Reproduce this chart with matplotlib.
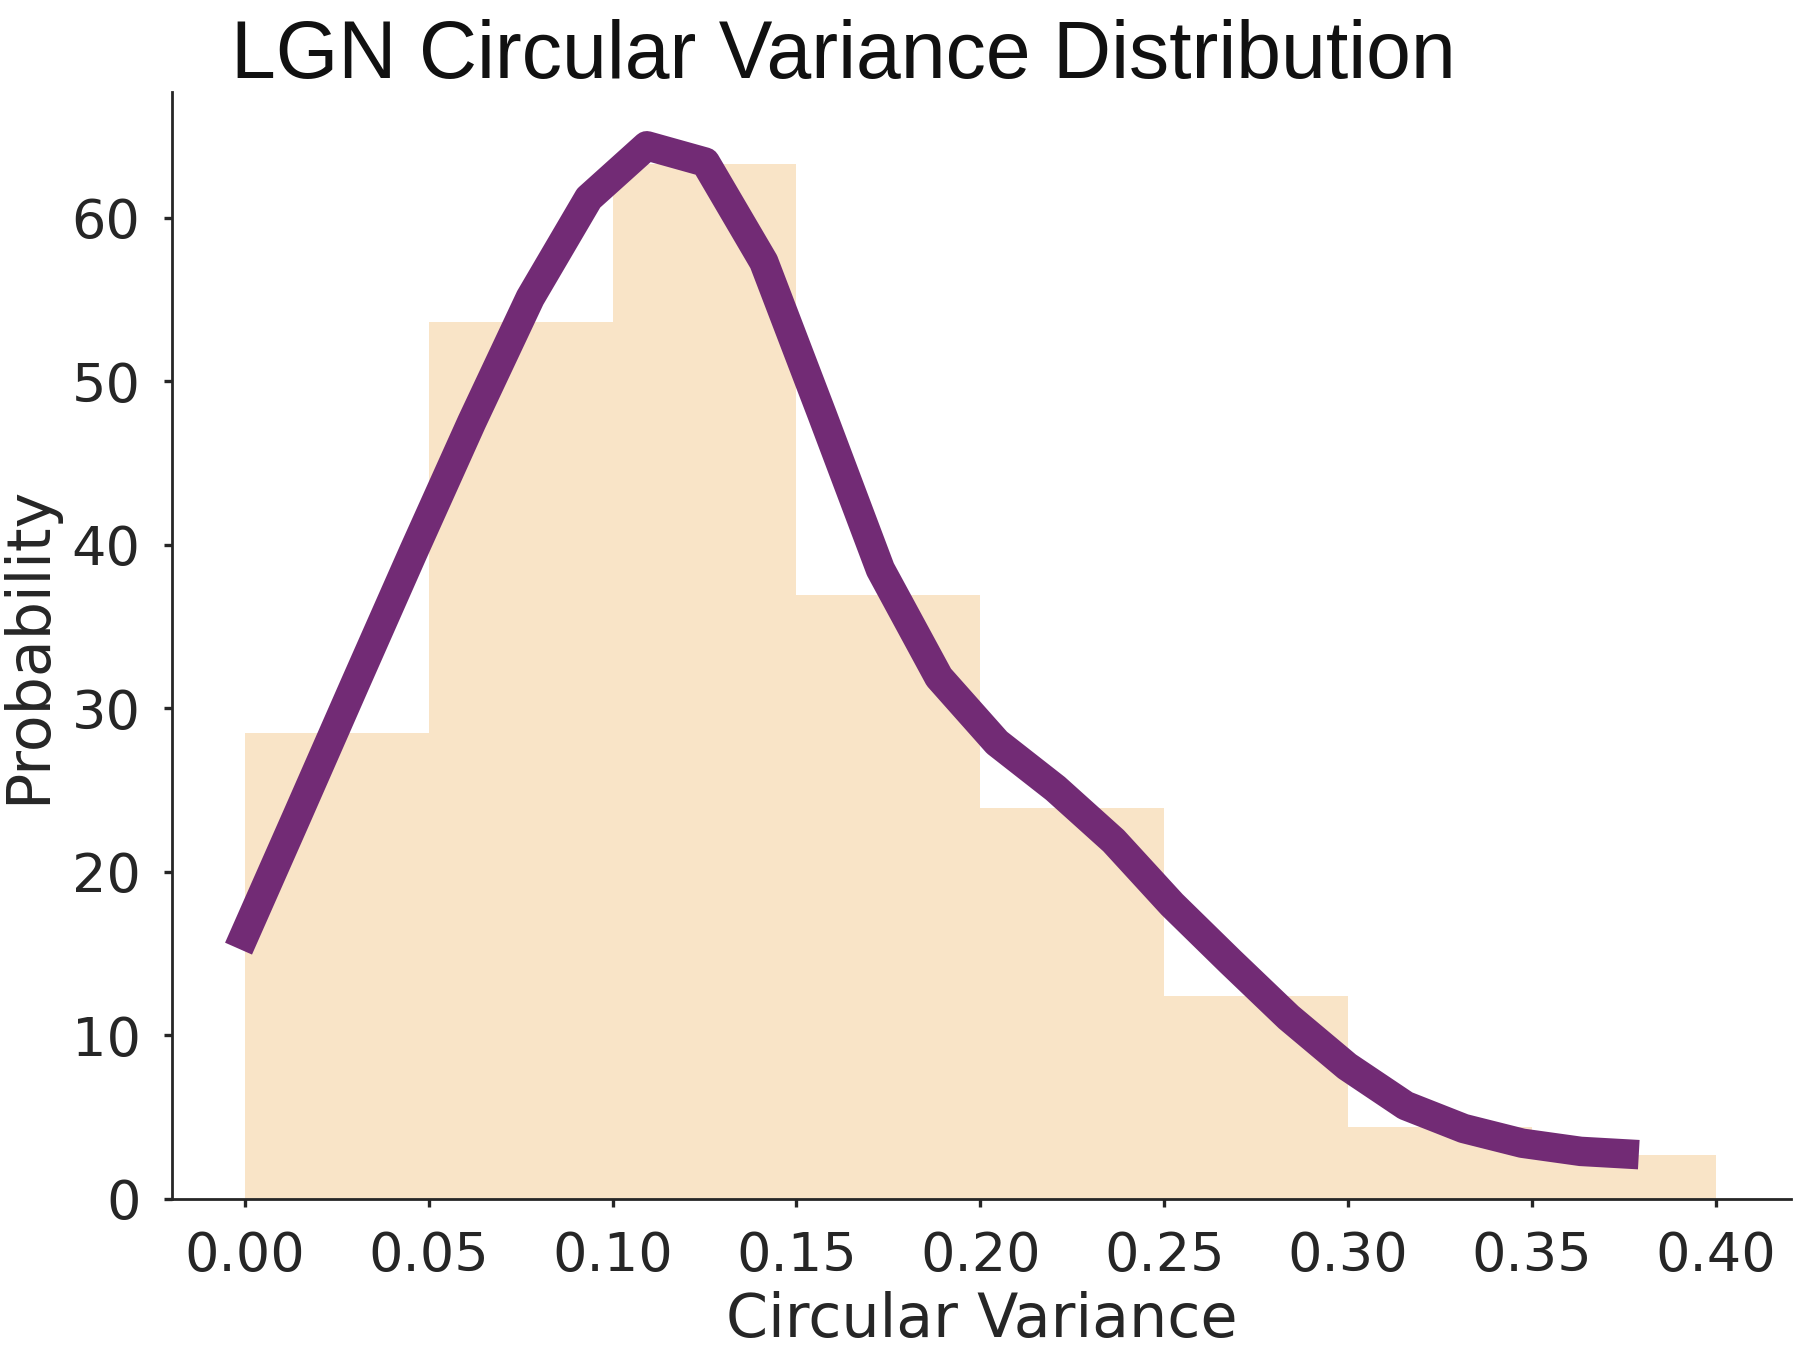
import matplotlib
matplotlib.use("Agg")
import matplotlib.pyplot as plt

# histogram bins (circular variance) and bar heights
bin_edges = [0.00, 0.05, 0.10, 0.15, 0.20, 0.25, 0.30, 0.35, 0.40]
bin_heights = [28.5, 53.6, 63.3, 36.9, 23.9, 12.4, 4.4, 2.7]

# smoothed density curve (vertices of the purple line)
kde_x = [-0.0017, 0.0142, 0.0300, 0.0459, 0.0617, 0.0776, 0.0935, 0.1093,
         0.1252, 0.1411, 0.1569, 0.1728, 0.1887, 0.2045, 0.2204, 0.2362,
         0.2521, 0.2680, 0.2838, 0.2997, 0.3156, 0.3314, 0.3473, 0.3632,
         0.3790]
kde_y = [15.3, 23.4, 31.5, 39.6, 47.5, 55.1, 61.2, 64.4,
         63.4, 57.3, 48.0, 38.5, 31.9, 27.9, 25.1, 21.9,
         18.0, 14.5, 11.1, 8.1, 5.7, 4.3, 3.4, 2.9,
         2.7]

text_col = "#262626"
plt.rcParams["font.family"] = "DejaVu Sans"
plt.rcParams["text.color"] = text_col
plt.rcParams["axes.labelcolor"] = text_col
plt.rcParams["xtick.color"] = text_col
plt.rcParams["ytick.color"] = text_col

fig = plt.figure(figsize=(8.975, 6.75), dpi=200)
ax = fig.add_axes([0.0958, 0.112, 0.902, 0.820])

widths = [bin_edges[i + 1] - bin_edges[i] for i in range(len(bin_heights))]
ax.bar(bin_edges[:-1], bin_heights, width=widths, align="edge",
       color="#F9E4C7", edgecolor="none", linewidth=0)
ax.plot(kde_x, kde_y, color="#722B75", linewidth=10.6,
        solid_capstyle="butt", solid_joinstyle="round")

ax.set_xlim(-0.0198, 0.4204)
ax.set_ylim(0, 67.7)
ax.set_xticks([0.00, 0.05, 0.10, 0.15, 0.20, 0.25, 0.30, 0.35, 0.40])
ax.set_xticklabels(["0.00", "0.05", "0.10", "0.15", "0.20", "0.25", "0.30", "0.35", "0.40"])
ax.set_yticks([0, 10, 20, 30, 40, 50, 60])

for side in ["top", "right"]:
    ax.spines[side].set_visible(False)
for side in ["left", "bottom"]:
    ax.spines[side].set_linewidth(1.0)
    ax.spines[side].set_color(text_col)
ax.tick_params(axis="both", direction="out", length=3, width=1.2,
               labelsize=19.5, pad=8.3)

ax.set_xlabel("Circular Variance", fontsize=21.7, labelpad=3)
ax.set_ylabel("Probability", fontsize=21.7, labelpad=5)

fig.text(0.470, 0.942, "LGN Circular Variance Distribution",
         ha="center", va="baseline", fontsize=29,
         family="Liberation Sans", color="#111111")

fig.savefig("out.png", dpi=200)
